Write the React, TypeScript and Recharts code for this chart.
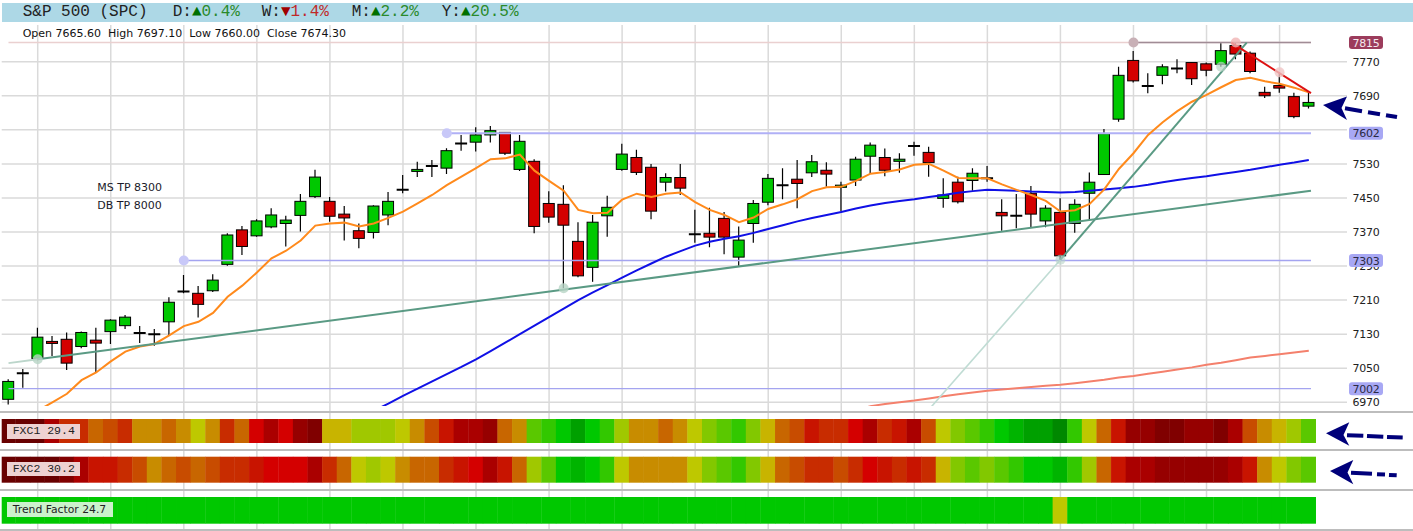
import {
  Bar,
  BarChart,
  CartesianGrid,
  Cell,
  ComposedChart,
  Line,
  ReferenceDot,
  ReferenceLine,
  XAxis,
  YAxis,
} from 'recharts';

// daily OHLC, oldest first (90 sessions)
const opens = [
  6977, 7038, 7073, 7113, 7118, 7101, 7116, 7136, 7150, 7133,
  7130, 7159, 7230, 7226, 7232, 7294, 7375, 7361, 7382, 7390,
  7409, 7453, 7442, 7412, 7373, 7369, 7410, 7469, 7513, 7525,
  7520, 7578, 7581, 7598, 7604, 7517, 7536, 7437, 7435, 7348,
  7287, 7408, 7517, 7545, 7522, 7487, 7498, 7365, 7367, 7402,
  7311, 7390, 7440, 7480, 7494, 7509, 7515, 7475, 7492, 7548,
  7545, 7536, 7572, 7557, 7449, 7487, 7491, 7496, 7416, 7408,
  7461, 7396, 7416, 7390, 7461, 7505, 7635, 7773, 7713, 7738,
  7754, 7768, 7765, 7764, 7808, 7790, 7698, 7714, 7688, 7665.6,
];
const highs = [
  7024, 7048, 7145, 7126, 7134, 7136, 7145, 7165, 7175, 7149,
  7142, 7217, 7269, 7243, 7271, 7367, 7384, 7400, 7426, 7408,
  7459, 7516, 7452, 7431, 7390, 7433, 7464, 7504, 7535, 7539,
  7567, 7598, 7616, 7619, 7605, 7598, 7541, 7466, 7480, 7393,
  7410, 7455, 7577, 7563, 7530, 7508, 7530, 7422, 7427, 7417,
  7383, 7445, 7506, 7520, 7539, 7551, 7534, 7488, 7547, 7580,
  7566, 7555, 7582, 7570, 7496, 7500, 7520, 7525, 7447, 7459,
  7478, 7433, 7449, 7447, 7510, 7612, 7758, 7795, 7743, 7764,
  7776, 7768, 7768, 7815, 7815, 7794, 7711, 7746, 7697, 7697.1,
];
const lows = [
  6965, 7004, 7069, 7079, 7046, 7097, 7040, 7107, 7142, 7109,
  7103, 7126, 7226, 7169, 7229, 7291, 7316, 7359, 7379, 7336,
  7371, 7450, 7394, 7350, 7332, 7355, 7386, 7461, 7499, 7499,
  7506, 7561, 7559, 7580, 7551, 7513, 7367, 7392, 7238, 7264,
  7253, 7359, 7514, 7504, 7400, 7465, 7457, 7345, 7334, 7318,
  7291, 7345, 7433, 7447, 7426, 7499, 7476, 7418, 7478, 7506,
  7501, 7509, 7549, 7500, 7427, 7437, 7467, 7488, 7373, 7379,
  7381, 7381, 7303, 7368, 7398, 7504, 7629, 7721, 7696, 7717,
  7743, 7715, 7736, 7758, 7776, 7743, 7685, 7697, 7637, 7660,
];
const closes = [
  7019, 7038, 7123, 7109, 7062, 7134, 7109, 7163, 7170, 7133,
  7130, 7205, 7230, 7200, 7257, 7363, 7336, 7396, 7410, 7398,
  7442, 7499, 7407, 7403, 7355, 7431, 7442, 7469, 7517, 7525,
  7561, 7578, 7598, 7608, 7555, 7583, 7383, 7405, 7386, 7267,
  7393, 7428, 7553, 7510, 7419, 7498, 7473, 7365, 7358, 7358,
  7351, 7437, 7496, 7480, 7484, 7535, 7506, 7480, 7541, 7574,
  7515, 7541, 7572, 7533, 7457, 7441, 7508, 7496, 7408, 7408,
  7412, 7426, 7314, 7435, 7487, 7601, 7738, 7725, 7713, 7758,
  7754, 7730, 7750, 7796, 7788, 7747, 7690, 7708, 7641, 7674.3,
];

// moving averages (orange fast, blue mid, salmon slow)
const emaFast = [
  6915, 6932, 6950, 6970, 6990, 7022, 7040, 7066, 7089, 7101,
  7107, 7127, 7149, 7159, 7180, 7218, 7244, 7275, 7308, 7326,
  7350, 7385, 7390, 7392, 7383, 7390, 7403, 7418, 7437, 7457,
  7480, 7500, 7520, 7541, 7543, 7552, 7514, 7490, 7467, 7422,
  7414, 7415, 7446, 7460, 7452, 7460, 7463, 7440, 7422, 7410,
  7393, 7404, 7424, 7435, 7447, 7466, 7475, 7476, 7490, 7507,
  7511, 7517, 7528, 7530, 7514, 7497, 7496, 7496, 7482, 7469,
  7457, 7443, 7418, 7421, 7436, 7470, 7518, 7555, 7598, 7628,
  7654, 7676, 7692, 7710, 7727, 7732, 7724, 7718, 7709, 7698,
];
const smaMid = [
  null, null, null, null, null, null, null, null, null, null,
  null, null, null, null, null, null, null, null, null, null,
  null, null, null, null, null, 6950, 6967, 6985, 7002, 7019,
  7036, 7053, 7071, 7090, 7110, 7130, 7150, 7170, 7190, 7210,
  7228, 7245, 7263, 7280, 7296, 7312, 7325, 7338, 7347, 7354,
  7360, 7368, 7377, 7386, 7395, 7403, 7410, 7417, 7425, 7432,
  7438, 7443, 7447, 7452, 7457, 7462, 7466, 7469, 7468, 7467,
  7465, 7464, 7463, 7464, 7467, 7470, 7473, 7476, 7481, 7487,
  7492, 7497, 7501, 7506, 7511, 7516, 7522, 7528, 7533, 7539,
];
const smaSlow = [
  null, null, null, null, null, null, null, null, null, null,
  null, null, null, null, null, null, null, null, null, null,
  null, null, null, null, null, null, null, null, null, null,
  null, null, null, null, null, null, null, null, null, null,
  null, null, null, null, null, null, null, null, null, null,
  null, null, null, null, null, null, null, null, 6950, 6961,
  6966, 6970, 6974, 6979, 6984, 6989, 6993, 6997, 7000, 7003,
  7006, 7009, 7011, 7015, 7019, 7023, 7028, 7032, 7037, 7042,
  7047, 7052, 7058, 7063, 7069, 7075, 7079, 7083, 7087, 7091,
];

// heat levels: 0 = strongest bearish ... 19 = strongest bullish
const fxc1 = [
  0, 0, 0, 3, 6, 6, 8, 7, 6, 9,
  9, 8, 9, 11, 9, 6, 8, 4, 3, 4,
  2, 1, 10, 10, 12, 12, 12, 11, 9, 7,
  5, 3, 3, 2, 8, 9, 14, 15, 16, 18,
  16, 15, 12, 9, 9, 8, 9, 11, 13, 14,
  15, 13, 10, 8, 7, 5, 6, 6, 4, 3,
  6, 5, 3, 7, 11, 13, 14, 15, 16, 17,
  18, 18, 19, 15, 11, 8, 5, 2, 2, 1,
  1, 2, 2, 1, 3, 7, 9, 10, 12, 14,
];
const fxc2 = [
  0, 0, 0, 0, 1, 3, 5, 5, 6, 7,
  9, 8, 7, 8, 7, 6, 6, 5, 4, 4,
  4, 3, 6, 8, 11, 12, 11, 9, 8, 8,
  6, 5, 4, 3, 5, 8, 12, 14, 16, 17,
  16, 15, 11, 9, 9, 9, 9, 11, 13, 14,
  15, 13, 10, 8, 7, 6, 6, 7, 6, 4,
  5, 6, 5, 6, 10, 13, 14, 13, 14, 15,
  16, 16, 17, 15, 12, 8, 5, 3, 3, 2,
  2, 2, 2, 2, 3, 5, 9, 11, 13, 14,
];
const trendFactor = [
  16, 16, 16, 16, 16, 16, 16, 16, 16, 16,
  16, 16, 16, 16, 16, 16, 16, 16, 16, 16,
  16, 16, 16, 16, 16, 16, 16, 16, 16, 16,
  16, 16, 16, 16, 16, 16, 16, 16, 16, 16,
  16, 16, 16, 16, 16, 16, 16, 16, 16, 16,
  16, 16, 16, 16, 16, 16, 16, 16, 16, 16,
  16, 16, 16, 16, 16, 16, 16, 16, 16, 16,
  16, 16, 11, 16, 16, 16, 16, 16, 16, 16,
  16, 16, 16, 16, 16, 16, 16, 16, 16, 16,
];

const priceTicks = [6970, 7050, 7130, 7210, 7290, 7370, 7450, 7530, 7690, 7770];
const gridPrices = [6970, 7050, 7130, 7210, 7290, 7370, 7450, 7530, 7610, 7690, 7770];
const levelPrices = [7002, 7303, 7602, 7815];
const gridColumns = [2, 7, 12, 17, 22, 27, 32, 37, 42, 47, 52, 57, 62, 67, 72, 77, 82, 87];

const HEAT = [
  '#680000', '#800000', '#960000', '#aa0000', '#d40000',
  '#c81400', '#c82c00', '#c84c00', '#c86600', '#c88c00',
  '#c8b400', '#bec800', '#a0c800', '#82c800', '#5ac800',
  '#32c800', '#00c800', '#00b400', '#00a000', '#008800',
];

const WIDTH = 1413;
const PLOT_LEFT = 1.7;
const AXIS_WIDTH = 66;
const X_DOMAIN: [number, number] = [-0.465, 91.615];
const PRICE_DOMAIN: [number, number] = [6961.3, 7856.2];
const LAST_X = 89.15;

const sessions = opens.map((open, i) => ({
  i,
  open,
  high: highs[i],
  low: lows[i],
  close: closes[i],
  ema: emaFast[i],
  mid: smaMid[i],
  slow: smaSlow[i],
}));

const LEVEL_BOX: Record<number, { fill: string; text: string }> = {
  7815: { fill: '#9c3c5c', text: '#f4e8ee' },
  7602: { fill: '#a8a8f4', text: '#2a2a44' },
  7303: { fill: '#a8a8f4', text: '#2a2a44' },
  7002: { fill: '#a8a8f4', text: '#2a2a44' },
};

function Candle(props: any) {
  const { x, y, width, height, payload } = props;
  if (!payload || height == null) return null;
  const { open, close, high, low } = payload;
  const top = Math.min(y, y + height);
  const h = Math.abs(height);
  const perUnit = high > low ? h / (high - low) : 0;
  const cx = x + width / 2;
  const bodyTop = top + (high - Math.max(open, close)) * perUnit;
  const bodyBottom = top + (high - Math.min(open, close)) * perUnit;
  const doji = open === close;
  return (
    <g>
      <line x1={cx} x2={cx} y1={top} y2={top + h} stroke="#000" strokeWidth={1.2} />
      {doji ? (
        <line x1={x} x2={x + width} y1={bodyTop} y2={bodyTop} stroke="#000" strokeWidth={2} />
      ) : (
        <rect
          x={x + 0.5}
          y={bodyTop}
          width={width - 1}
          height={Math.max(bodyBottom - bodyTop, 2)}
          fill={close > open ? '#00c800' : '#d40000'}
          stroke="#000"
          strokeWidth={1}
        />
      )}
    </g>
  );
}

// heat cells touch their neighbours: widen a little to hide seams
function HeatCell(props: any) {
  const { x, y, width, height, fill } = props;
  return <rect x={x - 0.5} y={y} width={width + 1} height={height} fill={fill} />;
}

function PriceTick(props: any) {
  const { x, y, payload } = props;
  const v = payload.value;
  const box = LEVEL_BOX[v];
  const textStyle = { fontFamily: 'DejaVu Sans', fontSize: 11, letterSpacing: -0.3 };
  if (box) {
    return (
      <g>
        <rect x={x + 2} y={y - 6.5} width={34} height={13} rx={3} fill={box.fill} />
        <text x={x + 19} y={y} dy={4} textAnchor="middle" fill={box.text} style={textStyle}>
          {v}
        </text>
      </g>
    );
  }
  return (
    <text x={x + 19} y={y} dy={4} textAnchor="middle" fill="#222" style={textStyle}>
      {v}
    </text>
  );
}

function HeatStrip({
  levels,
  top,
  height,
  domain,
}: {
  levels: number[];
  top: number;
  height: number;
  domain: [number, number];
}) {
  const rows = levels.map((level, i) => ({ i, level }));
  return (
    <div style={{ position: 'absolute', left: 0, top, width: WIDTH, height }}>
      <BarChart
        width={WIDTH}
        height={height}
        data={rows}
        margin={{ top: 0, right: AXIS_WIDTH, bottom: 0, left: PLOT_LEFT }}
      >
        <CartesianGrid horizontal={false} verticalValues={gridColumns} stroke="#d8d8d8" strokeWidth={1.5} />
        <XAxis type="number" dataKey="i" domain={X_DOMAIN} hide allowDataOverflow />
        <YAxis hide domain={domain} allowDataOverflow />
        <Bar dataKey={() => 1} barSize={14} shape={HeatCell} isAnimationActive={false}>
          {rows.map((r) => (
            <Cell key={r.i} fill={HEAT[r.level]} />
          ))}
        </Bar>
      </BarChart>
    </div>
  );
}

const abs = (left: number, top: number) => ({ position: 'absolute' as const, left, top });

export default function App() {
  const mono = '"Liberation Mono", "DejaVu Sans Mono", monospace';
  const sans = '"DejaVu Sans", sans-serif';
  return (
    <div
      style={{
        position: 'absolute',
        left: 0,
        top: 0,
        width: WIDTH,
        height: 531,
        background: '#fff',
        overflow: 'hidden',
        fontFamily: sans,
      }}
    >
      {/* title band */}
      <div style={{ ...abs(2, 3), width: 1411, height: 19, background: '#add8e6' }} />
      <div style={{ ...abs(0, 3), width: WIDTH, height: 19, fontFamily: mono, fontSize: 16, lineHeight: '19px', color: '#222' }}>
        <span style={abs(22.7, 0)}>S&amp;P 500 (SPC)</span>
        <span style={abs(172.7, 0)}>
          D:<span style={{ color: '#007000' }}>▲</span>
          <span style={{ color: '#2a8a2a' }}>0.4%</span>
        </span>
        <span style={abs(261.7, 0)}>
          W:<span style={{ color: '#a00000' }}>▼</span>
          <span style={{ color: '#c02828' }}>1.4%</span>
        </span>
        <span style={abs(351.7, 0)}>
          M:<span style={{ color: '#007000' }}>▲</span>
          <span style={{ color: '#2a8a2a' }}>2.2%</span>
        </span>
        <span style={abs(441.7, 0)}>
          Y:<span style={{ color: '#007000' }}>▲</span>
          <span style={{ color: '#2a8a2a' }}>20.5%</span>
        </span>
      </div>

      {/* indicator strips (drawn first so the price labels stay on top) */}
      <HeatStrip levels={fxc1} top={406} height={43} domain={[-0.25, 1.542]} />
      <HeatStrip levels={fxc2} top={450} height={39} domain={[-0.2423, 1.2577]} />
      <HeatStrip levels={trendFactor} top={490} height={41} domain={[-0.2734, 1.2622]} />

      {[411, 448.5, 488.5, 529.3].map((t) => (
        <div key={t} style={{ ...abs(0, t), width: WIDTH, height: 2, background: '#bdbdbd' }} />
      ))}

      {/* price panel: plot is 25..406, extra bottom margin keeps the 6970 label whole */}
      <div style={{ ...abs(0, 25), width: WIDTH, height: 390 }}>
        <ComposedChart
          width={WIDTH}
          height={390}
          data={sessions}
          margin={{ top: 0, right: 0, bottom: 9, left: PLOT_LEFT }}
        >
          <CartesianGrid
            horizontalValues={gridPrices}
            verticalValues={gridColumns}
            stroke="#dadada"
            strokeWidth={1.5}
          />
          <XAxis type="number" dataKey="i" domain={X_DOMAIN} hide allowDataOverflow />
          <YAxis
            orientation="right"
            width={AXIS_WIDTH}
            domain={PRICE_DOMAIN}
            allowDataOverflow
            ticks={[...priceTicks, ...levelPrices]}
            interval={0}
            tick={PriceTick}
            tickSize={0}
            tickMargin={0}
            axisLine={false}
            tickLine={false}
          />
          <ReferenceLine segment={[{ x: 0, y: 7815 }, { x: LAST_X, y: 7815 }]} stroke="#ead0d0" strokeWidth={1.5} ifOverflow="hidden" />
          <ReferenceLine segment={[{ x: 77, y: 7815 }, { x: LAST_X, y: 7815 }]} stroke="#a08c96" strokeWidth={1.5} ifOverflow="hidden" />
          <ReferenceLine segment={[{ x: 30, y: 7602 }, { x: LAST_X, y: 7602 }]} stroke="#b0b0f6" strokeWidth={2} ifOverflow="hidden" />
          <ReferenceLine segment={[{ x: 12, y: 7303 }, { x: LAST_X, y: 7303 }]} stroke="#a4a4f0" strokeWidth={1.3} ifOverflow="hidden" />
          <ReferenceLine segment={[{ x: 0, y: 7002 }, { x: LAST_X, y: 7002 }]} stroke="#a4a4f0" strokeWidth={1.3} ifOverflow="hidden" />
          <Bar dataKey={(d: any) => [d.low, d.high]} barSize={12} shape={Candle} isAnimationActive={false} />
          <Line type="linear" dataKey="slow" stroke="#f4806c" strokeWidth={2} dot={false} isAnimationActive={false} />
          <Line type="linear" dataKey="mid" stroke="#1010e6" strokeWidth={2} dot={false} isAnimationActive={false} />
          <Line type="linear" dataKey="ema" stroke="#ff8a1c" strokeWidth={2} dot={false} isAnimationActive={false} />
          <ReferenceLine segment={[{ x: 0, y: 7062 }, { x: 2, y: 7071 }]} stroke="#bcd6cb" strokeWidth={2} ifOverflow="hidden" />
          <ReferenceLine segment={[{ x: 2, y: 7071 }, { x: LAST_X, y: 7467 }]} stroke="#5a9a84" strokeWidth={2} ifOverflow="hidden" />
          <ReferenceLine segment={[{ x: 63.1, y: 6957 }, { x: 72, y: 7305 }]} stroke="#c0dcd4" strokeWidth={1.6} ifOverflow="hidden" />
          <ReferenceLine segment={[{ x: 72, y: 7305 }, { x: 84.75, y: 7815 }]} stroke="#5a9a84" strokeWidth={2} ifOverflow="hidden" />
          <ReferenceLine segment={[{ x: 83.7, y: 7815 }, { x: LAST_X, y: 7696 }]} stroke="#dd1111" strokeWidth={2} ifOverflow="hidden" />
          <ReferenceDot x={30} y={7602} r={5} fill="#c8c8f8" stroke="none" />
          <ReferenceDot x={12} y={7303} r={5} fill="#c8c8f8" stroke="none" />
          <ReferenceDot x={2} y={7071} r={5} fill="#b8d4c6" fillOpacity={0.8} stroke="none" />
          <ReferenceDot x={38} y={7238} r={5} fill="#b8d4c6" fillOpacity={0.8} stroke="none" />
          <ReferenceDot x={72} y={7305} r={5} fill="#b8d4c6" fillOpacity={0.6} stroke="none" />
          <ReferenceDot x={83} y={7758} r={5} fill="#b8d4c6" fillOpacity={0.7} stroke="none" />
          <ReferenceDot x={77} y={7815} r={5} fill="#c8b0b6" stroke="none" />
          <ReferenceDot x={84} y={7815} r={5} fill="#f0b4b4" fillOpacity={0.8} stroke="none" />
          <ReferenceDot x={87} y={7745} r={5} fill="#f0c4c4" fillOpacity={0.8} stroke="none" />
        </ComposedChart>
      </div>

      <div style={{ ...abs(22.7, 26.8), fontSize: 11, lineHeight: '13px', color: '#111', whiteSpace: 'pre' }}>
        {'Open 7665.60  High 7697.10  Low 7660.00  Close 7674.30'}
      </div>
      <div style={{ ...abs(97.3, 180.8), fontSize: 11, lineHeight: '13px', color: '#1a1a2a' }}>MS TP 8300</div>
      <div style={{ ...abs(97.3, 198.5), fontSize: 11, lineHeight: '13px', color: '#1a1a2a' }}>DB TP 8000</div>

      <div style={{ ...abs(6.7, 424.3), width: 67.3, height: 14.7, paddingLeft: 6, background: '#eed2d2', fontFamily: mono, fontSize: 11.5, lineHeight: '14.7px', color: '#222' }}>
        FXC1 29.4
      </div>
      <div style={{ ...abs(6.7, 461.7), width: 67.3, height: 14.3, paddingLeft: 6, background: '#eed2d2', fontFamily: mono, fontSize: 11.5, lineHeight: '14.3px', color: '#222' }}>
        FXC2 30.2
      </div>
      <div style={{ ...abs(6.7, 502.3), width: 100.6, height: 15, paddingLeft: 6, background: '#ccf2cc', fontSize: 10.8, lineHeight: '15px', color: '#222' }}>
        Trend Factor 24.7
      </div>

      {/* pointer arrows */}
      <svg width={WIDTH} height={531} style={{ position: 'absolute', left: 0, top: 0, pointerEvents: 'none' }}>
        <g fill="#00007a" stroke="#00007a" strokeWidth={4}>
          <polygon points="1323,105 1347,96.5 1341.5,108 1347,120" stroke="none" />
          <line x1={1345} y1={108.3} x2={1362} y2={111.2} />
          <line x1={1368} y1={112.2} x2={1380} y2={114.2} />
          <line x1={1386} y1={115.2} x2={1397} y2={117} />
          <polygon points="1326,433.3 1349.3,422.3 1343.5,435 1349.3,445.7" stroke="none" />
          <line x1={1347} y1={435.2} x2={1363.3} y2={435.8} />
          <line x1={1367} y1={436} x2={1383.3} y2={436.8} />
          <line x1={1387} y1={437} x2={1402.7} y2={437.6} />
          <polygon points="1330,471 1353.3,460 1347.5,472.5 1353.3,484.3" stroke="none" />
          <line x1={1351} y1={472.8} x2={1372} y2={473.8} />
          <line x1={1377} y1={474.2} x2={1385} y2={474.6} />
          <line x1={1389} y1={474.9} x2={1396.7} y2={475.3} />
        </g>
      </svg>
    </div>
  );
}
